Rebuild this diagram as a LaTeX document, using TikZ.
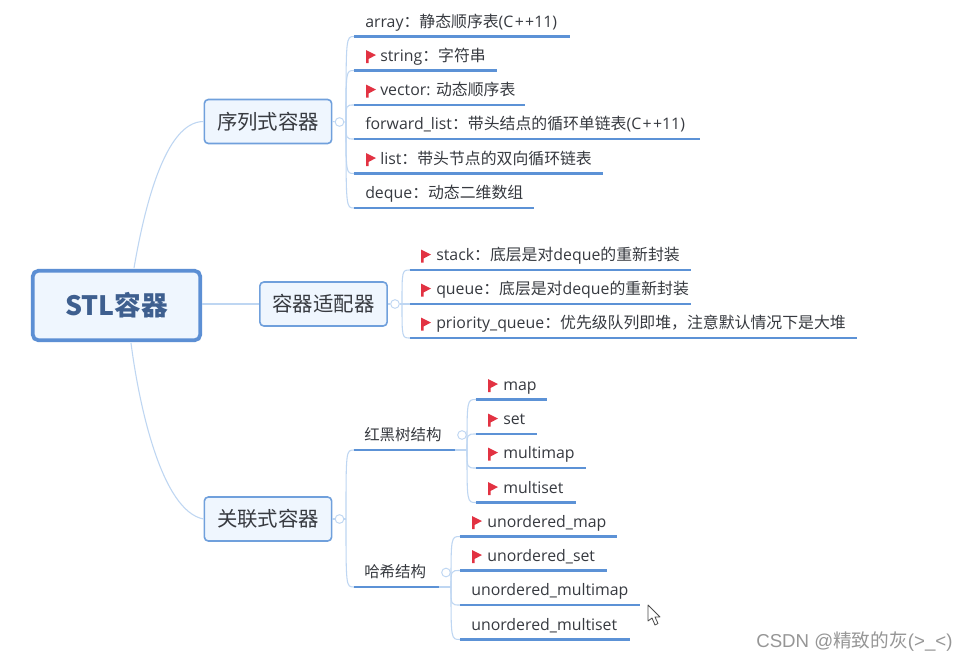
\documentclass[tikz,border=0pt]{standalone}
\usepackage{fontspec}
\setmainfont{Open Sans}
\newfontfamily\cjk{Noto Sans CJK SC}
\newfontfamily\markfont{Liberation Sans}
\usetikzlibrary{positioning,calc}
\definecolor{BranchClr}{RGB}{190,214,242}
\definecolor{UnderClr}{RGB}{92,146,214}
\definecolor{BoxFillClr}{RGB}{239,246,254}
\definecolor{BoxDrawClr}{RGB}{112,160,220}
\definecolor{RootDrawClr}{RGB}{92,143,212}
\definecolor{RootTextClr}{RGB}{62,95,143}
\definecolor{TextClr}{RGB}{55,58,64}
\definecolor{FlagClr}{RGB}{226,50,66}
\definecolor{MarkClr}{RGB}{150,150,150}
\tikzset{
  Branch/.style={BranchClr,line width=.8pt},
  Underline/.style={UnderClr,line width=1.7pt},
  RootBox/.style={draw=RootDrawClr,fill=BoxFillClr,line width=2.8pt,rounded corners=4pt,
    minimum width=125.5pt,minimum height=52pt,text=RootTextClr,font=\cjk\bfseries\fontsize{20}{24}\selectfont},
  MidBox/.style={draw=BoxDrawClr,fill=BoxFillClr,line width=1.2pt,rounded corners=3pt,
    minimum width=95.5pt,minimum height=33pt,text=TextClr,font=\cjk\fontsize{15.3}{18}\selectfont},
  LeafText/.style={inner sep=0pt,anchor=base west,text=TextClr,font=\fontsize{11.9}{14}\selectfont},
  SubText/.style={inner sep=0pt,anchor=base west,text=TextClr,font=\cjk\fontsize{11.6}{14}\selectfont},
  HubDot/.style={circle,draw=BranchClr,fill=white,line width=.7pt,minimum size=6.5pt,inner sep=0pt},
}
\newcommand{\LeafLine}[7]{%
  \coordinate (#1A) at (#3,#5);
  \coordinate (#1B) at (#4,#5);
  \draw[Branch] (#2) .. controls (#2 |- #1A) .. (#1A);
  \draw[Underline] (#1A) -- (#1B);
  \node[LeafText] (#1) at (#6,#5-9.5) {#7};
}
\newcommand{\DrawFlag}[2]{%
  \fill[FlagClr] (#1,#2-20.5) -- (#1+10,#2-15.5) -- (#1+2.5,#2-11.5) -- (#1+2.5,#2-7.5) -- (#1,#2-7.5) -- cycle;
}
\begin{document}
\begin{tikzpicture}[x=.75pt,y=-.75pt]
\useasboundingbox[fill=white] (0,0) rectangle (968,661);

\node[RootBox] (Root) at (116.5,305.5) {STL容器};
\node[MidBox] (SeqBox) at (268,121.5) {序列式容器};
\node[MidBox] (AdaptBox) at (323.5,304) {容器适配器};
\node[MidBox] (AssocBox) at (268,519) {关联式容器};

\coordinate (RootN) at (134,268);
\coordinate (RootS) at (131,343);
\draw[Branch] (RootN) .. controls +(10,-58) and +(-39,0) .. (SeqBox.west);
\draw[Branch] (Root.east |- AdaptBox.west) -- (AdaptBox.west);
\draw[Branch] (RootS) .. controls +(8,62) and +(-42,-8) .. (AssocBox.west);

\node[HubDot] (SeqDot) at (339.5,122) {};
\node[HubDot] (AdaptDot) at (395,304) {};
\node[HubDot] (AssocDot) at (339.5,519) {};
\coordinate (SeqHub) at (346,122);
\coordinate (AdaptHub) at (402,304);
\coordinate (AssocHub) at (346,519);
\draw[Branch] (SeqBox.east) -- (SeqDot) -- (SeqHub);
\draw[Branch] (AdaptBox.east) -- (AdaptDot) -- (AdaptHub);
\draw[Branch] (AssocBox.east) -- (AssocDot) -- (AssocHub);

\LeafLine{Array}{SeqHub}{354}{570}{36.5}{365}{array{\cjk：}{\cjk 静态顺序表}(C\kern1pt+\kern1pt+11)}
\LeafLine{String}{SeqHub}{354}{497}{70.5}{380}{string{\cjk：}{\cjk 字符串}}
\LeafLine{Vector}{SeqHub}{354}{525}{105}{380}{vector: {\cjk 动态顺序表}}
\LeafLine{Forward}{SeqHub}{354}{700}{139}{365}{forward\_list{\cjk：}{\cjk 带头结点的循环单链表}(C\kern1pt+\kern1pt+11)}
\LeafLine{List}{SeqHub}{354}{603}{173.5}{380}{list{\cjk：}{\cjk 带头节点的双向循环链表}}
\LeafLine{Deque}{SeqHub}{354}{534}{208}{365}{deque{\cjk：}{\cjk 动态二维数组}}
\DrawFlag{366}{70.5}
\DrawFlag{366}{105}
\DrawFlag{366}{173.5}

\LeafLine{Stack}{AdaptHub}{410}{691}{270}{436}{stack{\cjk：}{\cjk 底层是对}deque{\cjk 的重新封装}}
\LeafLine{Queue}{AdaptHub}{410}{691}{304}{436}{queue{\cjk：}{\cjk 底层是对}deque{\cjk 的重新封装}}
\LeafLine{Priority}{AdaptHub}{410}{857}{338}{436}{priority\_queue{\cjk：}{\cjk 优先级队列即堆，注意默认情况下是大堆}}
\DrawFlag{421}{270}
\DrawFlag{421}{304}
\DrawFlag{421}{338}

\coordinate (RbA) at (354,450);
\coordinate (RbB) at (455,450);
\coordinate (HashA) at (354,587);
\coordinate (HashB) at (439,587);
\draw[Branch] (AssocHub) .. controls (AssocHub |- RbA) .. (RbA);
\draw[Branch] (AssocHub) .. controls (AssocHub |- HashA) .. (HashA);
\draw[Underline] (RbA) -- (RbB);
\draw[Underline] (HashA) -- (HashB);
\node[SubText] (Rb) at (364,440) {红黑树结构};
\node[SubText] (Hash) at (364,577.5) {哈希结构};
\node[HubDot] (RbDot) at (462,435) {};
\node[HubDot] (HashDot) at (446,572.5) {};
\coordinate (RbHub) at (467,450);
\coordinate (HashHub) at (451,587);
\draw[Branch] (RbB) -- (RbHub);
\draw[Branch] (HashB) -- (HashHub);

\LeafLine{Map}{RbHub}{476}{547}{399.5}{503}{map}
\LeafLine{Set}{RbHub}{476}{537}{434}{503}{set}
\LeafLine{Multimap}{RbHub}{476}{586}{468}{503}{multimap}
\LeafLine{Multiset}{RbHub}{476}{576}{502.5}{503}{multiset}
\DrawFlag{488}{399.5}
\DrawFlag{488}{434}
\DrawFlag{488}{468}
\DrawFlag{488}{502.5}

\LeafLine{UoMap}{HashHub}{460}{617}{536.5}{487}{unordered\_map}
\LeafLine{UoSet}{HashHub}{460}{607}{570.5}{487}{unordered\_set}
\LeafLine{UoMultimap}{HashHub}{460}{640}{605}{471}{unordered\_multimap}
\LeafLine{UoMultiset}{HashHub}{460}{630}{639.5}{471}{unordered\_multiset}
\DrawFlag{472}{536.5}
\DrawFlag{472}{570.5}

\draw[fill=white,draw=black!70,line width=.6pt,line join=round] (648,605) -- (648,621) -- (652,618) -- (655,625) -- (658,623.5) -- (655,617) -- (660,617) -- cycle;

\node[inner sep=0pt,anchor=base west,text=MarkClr,font=\markfont\fontsize{14}{17}\selectfont] (Mark) at (756,647) {CSDN @{\cjk 精致的灰}(>\_<)};
\end{tikzpicture}
\end{document}
